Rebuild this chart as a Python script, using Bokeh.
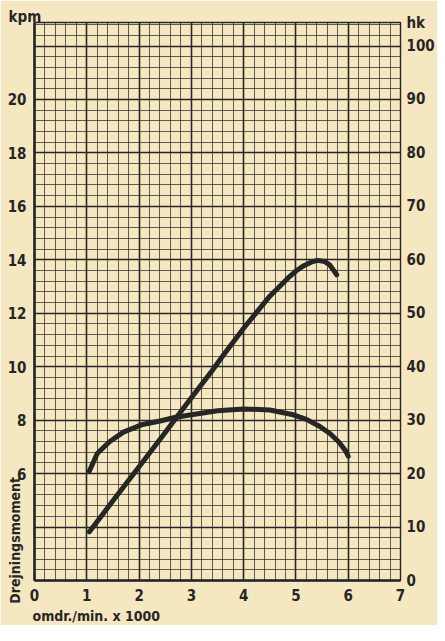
from bokeh.plotting import figure
from bokeh.models import (Range1d, LinearAxis, FixedTicker, SingleIntervalTicker, Grid, Label)
from bokeh.embed import file_html
from bokeh.resources import INLINE

# ---- data ----
rpm_power = [1.05, 1.5, 2.0, 2.5, 2.7, 3.0, 3.4, 3.6, 4.0, 4.2, 4.5, 4.85, 5.0, 5.15, 5.3, 5.42, 5.55, 5.65, 5.78]
power_hk = [9.1, 14.9, 21.3, 27.7, 30.3, 34.2, 39.3, 42.0, 47.2, 49.6, 53.2, 56.6, 57.9, 58.9, 59.6, 59.9, 59.7, 59.0, 57.2]

rpm_torque = [1.05, 1.2, 1.44, 1.7, 2.07, 2.4, 2.68, 3.0, 3.5, 4.0, 4.5, 4.95, 5.2, 5.45, 5.65, 5.82, 5.95, 6.0]
torque_kpm = [6.1, 6.75, 7.2, 7.55, 7.84, 7.97, 8.1, 8.2, 8.35, 8.42, 8.38, 8.2, 8.03, 7.77, 7.5, 7.18, 6.85, 6.65]

x_ticks = [0, 1, 2, 3, 4, 5, 6, 7]
kpm_ticks = [6, 8, 10, 12, 14, 16, 18, 20]
hk_ticks = [0, 10, 20, 30, 40, 50, 60, 70, 80, 90, 100]

x_title = "omdr./min. x 1000"
kpm_title = "kpm"
hk_title = "hk"
side_title = "Drejningsmoment"

# ---- style ----
PAPER = "#f5e7c0"
INK = "#262626"
FONT = "'DejaVu Sans Condensed', 'Roboto Condensed', Roboto, sans-serif"
NBSP = "\u00a0"

HK_MAX = 104.4
KPM_MAX = (HK_MAX + 10) / 5.0

p = figure(width=437, height=625, output_backend="svg", toolbar_location=None,
           x_range=Range1d(0, 7), y_range=Range1d(0, HK_MAX),
           x_axis_location=None, y_axis_location=None,
           min_border_left=34, min_border_right=30, min_border_top=22, min_border_bottom=45,
           background_fill_color=PAPER, border_fill_color=PAPER,
           outline_line_color=INK, outline_line_width=1.4)
p.extra_y_ranges = {"kpm": Range1d(2, KPM_MAX)}

for g in list(p.xgrid) + list(p.ygrid):
    g.visible = False

p.add_layout(Grid(dimension=0, ticker=SingleIntervalTicker(interval=1, num_minor_ticks=5),
                  grid_line_color=INK, grid_line_width=1.6,
                  minor_grid_line_color=INK, minor_grid_line_width=0.9, minor_grid_line_alpha=0.8))
p.add_layout(Grid(dimension=1, ticker=SingleIntervalTicker(interval=10, num_minor_ticks=5),
                  grid_line_color=INK, grid_line_width=1.6,
                  minor_grid_line_color=INK, minor_grid_line_width=0.9, minor_grid_line_alpha=0.8))

txt = dict(major_label_text_font=FONT, major_label_text_font_style="bold",
           major_label_text_font_size="15px", major_label_text_color=INK,
           axis_label_text_font=FONT, axis_label_text_font_style="bold",
           axis_label_text_font_size="14px", axis_label_text_color=INK)
noticks = dict(major_tick_line_color=None, minor_tick_line_color=None,
               major_tick_out=0, major_tick_in=0)

# "kpm" unit name as a left-aligned title above the frame
p.title.text = kpm_title
p.title.align = "left"
p.title.offset = -26
p.title.standoff = -6
p.title.text_font = FONT
p.title.text_font_style = "bold"
p.title.text_font_size = "15px"
p.title.text_color = INK

left = LinearAxis(y_range_name="kpm", ticker=FixedTicker(ticks=kpm_ticks),
                  axis_line_color=INK, axis_line_width=2.6, major_label_standoff=8,
                  **noticks, **txt)
# label-only axis carrying "Drejningsmoment" low on the left edge
# (trailing no-break spaces push the centred label down to the bottom of the frame)
side = LinearAxis(y_range_name="kpm", ticker=FixedTicker(ticks=[]), axis_line_color=None,
                  axis_label=side_title + NBSP * 109, axis_label_standoff=-18,
                  **noticks, **txt)
right = LinearAxis(ticker=FixedTicker(ticks=hk_ticks + [HK_MAX]),
                   major_label_overrides={HK_MAX: hk_title},
                   axis_line_color=None, major_label_standoff=6, **noticks, **txt)
bottom = LinearAxis(ticker=FixedTicker(ticks=x_ticks), axis_line_color=INK, axis_line_width=2.6,
                    major_label_standoff=8, **noticks, **txt)
p.add_layout(left, "left")
p.add_layout(side, "left")
p.add_layout(right, "right")
p.add_layout(bottom, "below")

# x-axis title, left-aligned, in its own strip under the tick labels
p.add_layout(Label(x=-2, y=-4, x_units="screen", y_units="screen", text=x_title,
                   text_font=FONT, text_font_style="bold", text_font_size="14px",
                   text_color=INK), "below")

p.line(rpm_power, power_hk, line_width=5, color=INK, line_cap="round", line_join="round")
p.line(rpm_torque, torque_kpm, y_range_name="kpm", line_width=5, color=INK,
       line_cap="round", line_join="round")

open("out.html", "w").write(file_html(p, INLINE))
